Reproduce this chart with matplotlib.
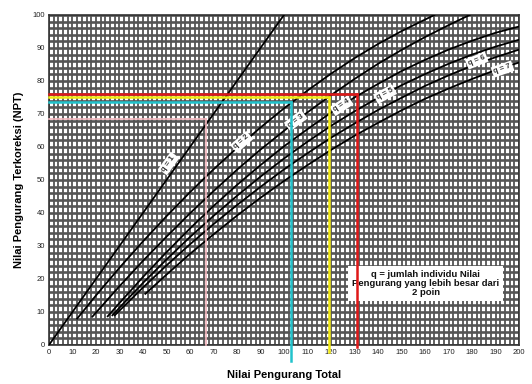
import numpy as np
import matplotlib
matplotlib.use("Agg")
import matplotlib.pyplot as plt

plt.rcParams['font.family'] = ['Liberation Sans', 'DejaVu Sans']

# curves q = 1 .. 7 (Nilai Pengurang Total -> Nilai Pengurang Terkoreksi)
q1_x = [0, 100]
q1_y = [0, 100]
q2_x = [12, 20, 30, 40, 50, 60, 70, 80, 90, 100, 110, 120, 130, 140, 150, 164]
q2_y = [8.0, 15.0, 23.4, 31.4, 39.0, 46.3, 53.2, 59.7, 65.9, 71.7, 77.1, 82.2, 86.9, 91.2, 95.1, 100]
q3_x = [18.5, 30, 40, 50, 60, 70, 80, 90, 100, 110, 120, 130, 140, 150, 160, 170, 179]
q3_y = [8.6, 17.8, 25.5, 32.8, 39.9, 46.6, 53.1, 59.2, 64.9, 70.5, 75.7, 80.6, 85.2, 89.4, 93.3, 96.9, 100]
q4_x = [25, 30, 40, 50, 60, 70, 80, 90, 100, 110, 120, 130, 140, 150, 160, 170, 180, 190, 200]
q4_y = [8.7, 12.7, 20.6, 28.1, 35.3, 42.1, 48.5, 54.5, 60.2, 65.4, 70.4, 75.0, 79.1, 83.0, 86.4, 89.5, 92.2, 94.6, 96.5]
q5_x = [27, 30, 40, 50, 60, 70, 80, 90, 100, 110, 120, 130, 140, 150, 160, 170, 180, 190, 200]
q5_y = [9.0, 11.3, 18.8, 25.9, 32.7, 39.1, 45.2, 51.0, 56.5, 61.6, 66.4, 70.8, 74.9, 78.7, 82.1, 85.2, 88.0, 90.4, 92.5]
q6_x = [28, 30, 40, 50, 60, 70, 80, 90, 100, 110, 120, 130, 140, 150, 160, 170, 180, 190, 200]
q6_y = [9.0, 10.4, 17.4, 24.1, 30.5, 36.6, 42.4, 47.9, 53.2, 58.1, 62.8, 67.1, 71.2, 74.9, 78.5, 81.7, 84.6, 87.2, 89.5]
q7_x = [41, 50, 60, 70, 80, 90, 100, 110, 120, 130, 140, 150, 160, 170, 180, 190, 200]
q7_y = [15.5, 21.3, 27.6, 33.5, 39.2, 44.6, 49.7, 54.5, 59.1, 63.4, 67.3, 71.1, 74.6, 77.7, 80.6, 83.3, 85.6]

curves = [(q1_x, q1_y), (q2_x, q2_y), (q3_x, q3_y), (q4_x, q4_y),
          (q5_x, q5_y), (q6_x, q6_y), (q7_x, q7_y)]
q_labels = ['q = 1', 'q = 2', 'q = 3', 'q = 4', 'q = 5', 'q = 6', 'q = 7']

# readings marked on the chart
read_tdv = [67, 103, 119, 131]
read_cdv = [68.5, 73.5, 75, 76]
read_colors = ['#f4b6bd', '#22c3cc', '#f2ea10', '#e01818']

note = "q = jumlah individu Nilai\nPengurang yang lebih besar dari\n2 poin"

fig = plt.figure(figsize=(5.32, 3.84), dpi=100)
ax = fig.add_axes([0.092, 0.1016, 0.8836, 0.8594])

ax.set_xlim(0, 200)
ax.set_ylim(0, 100)
ax.set_facecolor('white')
ax.set_xticks(np.arange(0, 201, 10))
ax.set_yticks(np.arange(0, 101, 10))
ax.set_xticks(np.arange(0, 201, 2), minor=True)
ax.set_yticks(np.arange(0, 101, 2), minor=True)
ax.xaxis.grid(True, which='both', color='#555555', lw=1.3, zorder=0)
ax.yaxis.grid(True, which='both', color='#555555', lw=1.9, zorder=0)
ax.set_axisbelow(True)
ax.tick_params(which='both', length=0, labelsize=5.5, pad=3, colors='#222222')
for s in ax.spines.values():
    s.set_color('#333333')
    s.set_linewidth(1.2)

for cx, cy in curves:
    ax.plot(cx, cy, color='black', lw=1.3, zorder=3)

# curve labels
lab_pos = [(51, 55), (82, 61.5), (105, 68), (124.5, 72.5), (143, 76), (182, 86.2), (193, 83.6)]
lab_rot = [54, 41, 37, 33, 28, 22, 19]
for t, (lx, ly), r in zip(q_labels, lab_pos, lab_rot):
    ax.text(lx, ly, t, rotation=r, ha='center', va='center', fontsize=5.5,
            fontweight='bold', color='#333333', zorder=4,
            bbox=dict(boxstyle='square,pad=0.25', fc='white', ec='none'))

# note box
ax.text(160.3, 18.6, note, ha='center', va='center', fontsize=6.8, fontweight='bold',
        color='#111111', linespacing=1.0, zorder=4,
        bbox=dict(boxstyle='square,pad=0.4', fc='white', ec='none'))

# reading lines
ext = [0, -5, -2, -0.5]
for tx, cy, c, e in zip(read_tdv, read_cdv, read_colors, ext):
    lw = 1.2 if c == '#f4b6bd' else 1.8
    ax.plot([0, tx], [cy, cy], color=c, lw=lw, zorder=5, clip_on=False)
    ax.plot([tx, tx], [e, cy], color=c, lw=lw, zorder=5, clip_on=False)

ax.set_xlabel('Nilai Pengurang Total', fontsize=8, fontweight='bold', labelpad=10)
ax.set_ylabel('Nilai Pengurang Terkoreksi (NPT)', fontsize=8, fontweight='bold', labelpad=6)

fig.savefig('out.png', dpi=100)
